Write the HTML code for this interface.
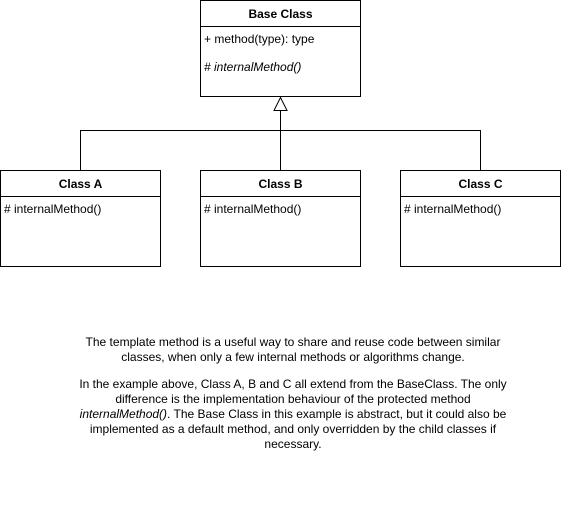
<!DOCTYPE html>
<html><head><meta charset="utf-8"><style>
html,body{margin:0;padding:0;background:#fff;}
svg{display:block;font-family:"Liberation Sans",Arial,sans-serif;font-size:12px;}
</style></head><body>
<svg width="562" height="518" viewBox="0 0 562 518">
<g fill="#fff" stroke="#000" stroke-width="1">
<rect x="200.5" y="0.5" width="160" height="96"/>
<line x1="200.5" y1="26.5" x2="360.5" y2="26.5"/>
<rect x="0.5" y="170.5" width="160" height="96"/>
<line x1="0.5" y1="196.5" x2="160.5" y2="196.5"/>
<rect x="200.5" y="170.5" width="160" height="96"/>
<line x1="200.5" y1="196.5" x2="360.5" y2="196.5"/>
<rect x="400.5" y="170.5" width="160" height="96"/>
<line x1="400.5" y1="196.5" x2="560.5" y2="196.5"/>
<path d="M80.5 170V130.5H480.5V170M280.5 170V110" fill="none"/>
<polygon points="280.5,97.5 274,110.5 287,110.5"/>
</g>
<g fill="#000">
<text x="280.5" y="18" text-anchor="middle" font-weight="bold">Base Class</text>
<text x="204" y="43">+ method(type): type</text>
<text x="204" y="71" font-style="italic"># internalMethod()</text>
<text x="80.5" y="188" text-anchor="middle" font-weight="bold">Class A</text>
<text x="280.5" y="188" text-anchor="middle" font-weight="bold">Class B</text>
<text x="480.5" y="188" text-anchor="middle" font-weight="bold">Class C</text>
<text x="4" y="213"># internalMethod()</text>
<text x="204" y="213"># internalMethod()</text>
<text x="404" y="213"># internalMethod()</text>
<g text-anchor="middle">
<text x="293" y="346">The template method is a useful way to share and reuse code between similar</text>
<text x="293" y="361">classes, when only a few internal methods or algorithms change.</text>
<text x="293" y="388">In the example above, Class A, B and C all extend from the BaseClass. The only</text>
<text x="293" y="403">difference is the implementation behaviour of the protected method</text>
<text x="293" y="418"><tspan font-style="italic">internalMethod()</tspan>. The Base Class in this example is abstract, but it could also be</text>
<text x="293" y="433">implemented as a default method, and only overridden by the child classes if</text>
<text x="293" y="448">necessary.</text>
</g>
</g>
</svg>
</body></html>
